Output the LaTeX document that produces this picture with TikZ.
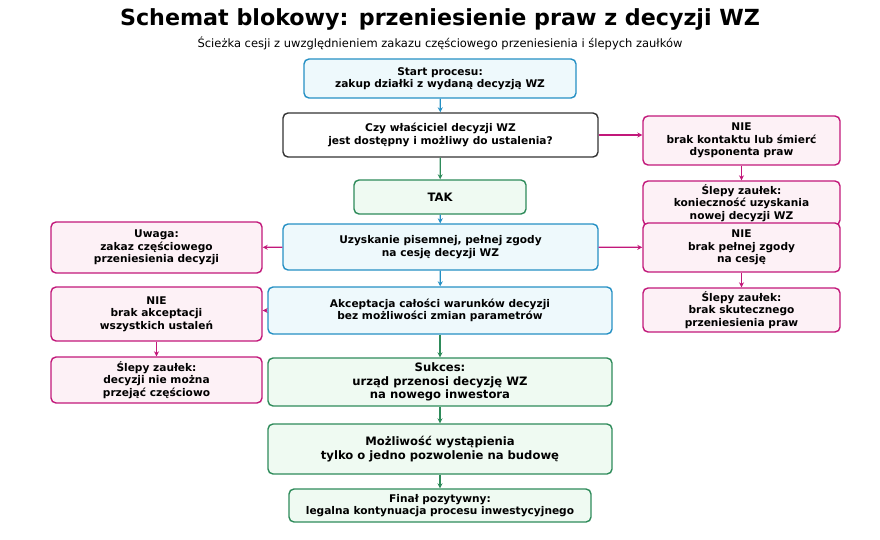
\documentclass[tikz,border=0pt]{standalone}
\usepackage{fontspec}
\setmainfont{DejaVu Sans}
\usepackage{xcolor}
\usetikzlibrary{arrows.meta, positioning, calc}

\definecolor{bluedraw}{HTML}{2590C4}
\definecolor{bluefill}{HTML}{EEF9FC}
\definecolor{greendraw}{HTML}{2E8B5A}
\definecolor{greenfill}{HTML}{EFFAF2}
\definecolor{pinkdraw}{HTML}{C2187A}
\definecolor{pinkfill}{HTML}{FDF1F6}
\definecolor{greydraw}{HTML}{333333}

\begin{document}
\begin{tikzpicture}[x=1pt, y=-1pt,
    box/.style={draw, line width=1.4pt, rounded corners=5pt, align=center, inner sep=2pt, font=\fontsize{10.6}{12.3}\selectfont\bfseries},
    bigbox/.style={box, font=\fontsize{11.6}{13.8}\selectfont\bfseries},
    bluebox/.style={fill=bluefill, draw=bluedraw},
    greenbox/.style={fill=greenfill, draw=greendraw},
    pinkbox/.style={fill=pinkfill, draw=pinkdraw},
    arrow/.style={-{Stealth[length=5pt, width=5pt]}, line width=1.2pt}
]
    \useasboundingbox (0,0) rectangle (880,540);
    \node[font=\fontsize{22.2}{26}\selectfont\bfseries] at (440,19) (title) {Schemat blokowy: przeniesienie praw z decyzji WZ};
    \node[font=\fontsize{11.5}{13}\selectfont] at (440,43) (subtitle) {Ścieżka cesji z uwzględnieniem zakazu częściowego przeniesienia i ślepych zaułków};

    % main path
    \node[box, bluebox, minimum width=272pt, minimum height=39pt] at (440,78.5) (start) {Start procesu:\\zakup działki z wydaną decyzją WZ};
    \node[box, fill=white, draw=greydraw, minimum width=315pt, minimum height=44pt] at (440.5,135) (owner) {Czy właściciel decyzji WZ\\jest dostępny i możliwy do ustalenia?};
    \node[bigbox, greenbox, minimum width=172pt, minimum height=34pt] at (440,197) (yes) {TAK};
    \node[box, bluebox, minimum width=315pt, minimum height=46pt] at (440.5,247) (consent) {Uzyskanie pisemnej, pełnej zgody\\na cesję decyzji WZ};
    \node[box, bluebox, minimum width=344pt, minimum height=47pt] at (440,310.5) (accept) {Akceptacja całości warunków decyzji\\bez możliwości zmian parametrów};
    \node[bigbox, greenbox, minimum width=344pt, minimum height=48pt] at (440,382) (success) {Sukces:\\urząd przenosi decyzję WZ\\na nowego inwestora};
    \node[bigbox, greenbox, minimum width=344pt, minimum height=50pt] at (440,449) (onepermit) {Możliwość wystąpienia\\tylko o jedno pozwolenie na budowę};
    \node[box, greenbox, minimum width=302pt, minimum height=33pt] at (440,505.5) (final) {Finał pozytywny:\\legalna kontynuacja procesu inwestycyjnego};

    % right branch
    \node[box, pinkbox, minimum width=197pt, minimum height=49pt] at (741.5,140.5) (nocontact) {NIE\\brak kontaktu lub śmierć\\dysponenta praw};
    \node[box, pinkbox, minimum width=197pt, minimum height=44pt] at (741.5,203) (deadnew) {Ślepy zaułek:\\konieczność uzyskania\\nowej decyzji WZ};
    \node[box, pinkbox, minimum width=197pt, minimum height=49pt] at (741.5,247.5) (noconsent) {NIE\\brak pełnej zgody\\na cesję};
    \node[box, pinkbox, minimum width=197pt, minimum height=44pt] at (741.5,310) (deadnone) {Ślepy zaułek:\\brak skutecznego\\przeniesienia praw};

    % left branch
    \node[box, pinkbox, minimum width=211pt, minimum height=51pt] at (156.5,247.5) (note) {Uwaga:\\zakaz częściowego\\przeniesienia decyzji};
    \node[box, pinkbox, minimum width=211pt, minimum height=54pt] at (156.5,314) (noaccept) {NIE\\brak akceptacji\\wszystkich ustaleń};
    \node[box, pinkbox, minimum width=211pt, minimum height=46pt] at (156.5,380) (deadpart) {Ślepy zaułek:\\decyzji nie można\\przejąć częściowo};

    \draw[arrow, bluedraw] (start) -- (owner);
    \draw[arrow, greendraw] (owner) -- (yes);
    \draw[arrow, bluedraw] (yes) -- (consent);
    \draw[arrow, bluedraw] (consent) -- (accept);
    \draw[arrow, greendraw] (accept) -- (success);
    \draw[arrow, greendraw] (success) -- (onepermit);
    \draw[arrow, greendraw] (onepermit) -- (final);

    \draw[arrow, pinkdraw] (owner.east) -- (owner.east -| nocontact.west);
    \draw[arrow, pinkdraw] (nocontact) -- (deadnew);
    \draw[arrow, pinkdraw] (consent) -- (noconsent);
    \draw[arrow, pinkdraw] (noconsent) -- (deadnone);
    \draw[arrow, pinkdraw] (consent) -- (note);
    \draw[arrow, pinkdraw] (accept.west) -- (accept.west -| noaccept.east);
    \draw[arrow, pinkdraw] (noaccept) -- (deadpart);
\end{tikzpicture}
\end{document}
